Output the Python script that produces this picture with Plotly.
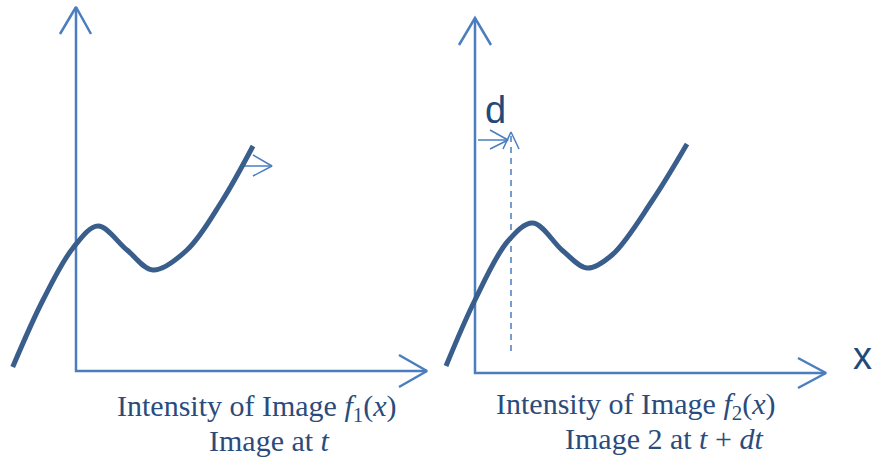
import plotly.graph_objects as go

# ---- data (diagram coordinates, y grows downward) ----
curve1_x = [12.7, 43, 73, 98, 127, 153, 187, 222, 253]
curve1_y = [367, 300, 248, 226, 250, 270, 250, 201, 146]

curve2_x = [446, 475, 508, 533, 563, 587, 612, 652, 687]
curve2_y = [366, 300, 241, 223, 251, 268, 255, 201, 144]

axis1_x = [76, 76, 427]
axis1_y = [7, 371, 371]
axis2_x = [475, 475, 826]
axis2_y = [18, 373, 373]

head_x = [60, 76, 91, None, 399, 427, 399, None, 459, 475, 491, None, 798, 826, 798]
head_y = [34, 7, 34, None, 355, 371, 387, None, 45, 18, 45, None, 358, 373, 388]

small_x = [244, 272, None, 253, 272, 253, None, 478, 508, None, 490, 508, 490, None, 503, 511, 519]
small_y = [166, 166, None, 155, 166, 176, None, 140, 140, None, 130, 140, 149, None, 149, 132, 149]

dash_x = [511, 511]
dash_y = [136, 356]

labels = [
    (257, 408, "Intensity of Image <i>f</i><sub>1</sub>(<i>x</i>)"),
    (269, 440, "Image at <i>t</i>"),
    (636, 406, "Intensity of Image <i>f</i><sub>2</sub>(<i>x</i>)"),
    (664, 438, "Image 2 at <i>t</i> + <i>dt</i>"),
]
sans_labels = [(495, 110, "d"), (862, 356, "x")]

AXIS = "#4a7ebf"
CURVE = "#3a5e8c"
TEXT = "#2b4b7c"

fig = go.Figure()
fig.add_trace(go.Scatter(x=axis1_x + [None] + axis2_x, y=axis1_y + [None] + axis2_y,
                         mode="lines", line=dict(color=AXIS, width=2.5), hoverinfo="skip"))
fig.add_trace(go.Scatter(x=head_x, y=head_y, mode="lines",
                         line=dict(color=AXIS, width=2.5), hoverinfo="skip"))
fig.add_trace(go.Scatter(x=small_x, y=small_y, mode="lines",
                         line=dict(color=AXIS, width=1.5), hoverinfo="skip"))
fig.add_trace(go.Scatter(x=dash_x, y=dash_y, mode="lines",
                         line=dict(color=AXIS, width=1.5, dash="6px,5px"), hoverinfo="skip"))
fig.add_trace(go.Scatter(x=curve1_x, y=curve1_y, mode="lines",
                         line=dict(color=CURVE, width=5, shape="spline", smoothing=1.0), hoverinfo="skip"))
fig.add_trace(go.Scatter(x=curve2_x, y=curve2_y, mode="lines",
                         line=dict(color=CURVE, width=5, shape="spline", smoothing=1.0), hoverinfo="skip"))

for x, y, t in labels:
    fig.add_annotation(x=x, y=y, text=t, showarrow=False, xanchor="center", yanchor="middle",
                       font=dict(family="Liberation Serif", size=30, color=TEXT))
for x, y, t in sans_labels:
    fig.add_annotation(x=x, y=y, text=t, showarrow=False, xanchor="center", yanchor="middle",
                       font=dict(family="Liberation Sans", size=38, color="#22497e"))

fig.update_layout(
    width=874, height=459, margin=dict(l=0, r=0, t=0, b=0),
    paper_bgcolor="white", plot_bgcolor="white", showlegend=False,
    xaxis=dict(range=[0, 874], visible=False, fixedrange=True),
    yaxis=dict(range=[459, 0], visible=False, fixedrange=True),
)
fig.write_html("out.html", config={"displayModeBar": False},
               post_script="document.body.style.margin='0';document.body.style.overflow='hidden';")
